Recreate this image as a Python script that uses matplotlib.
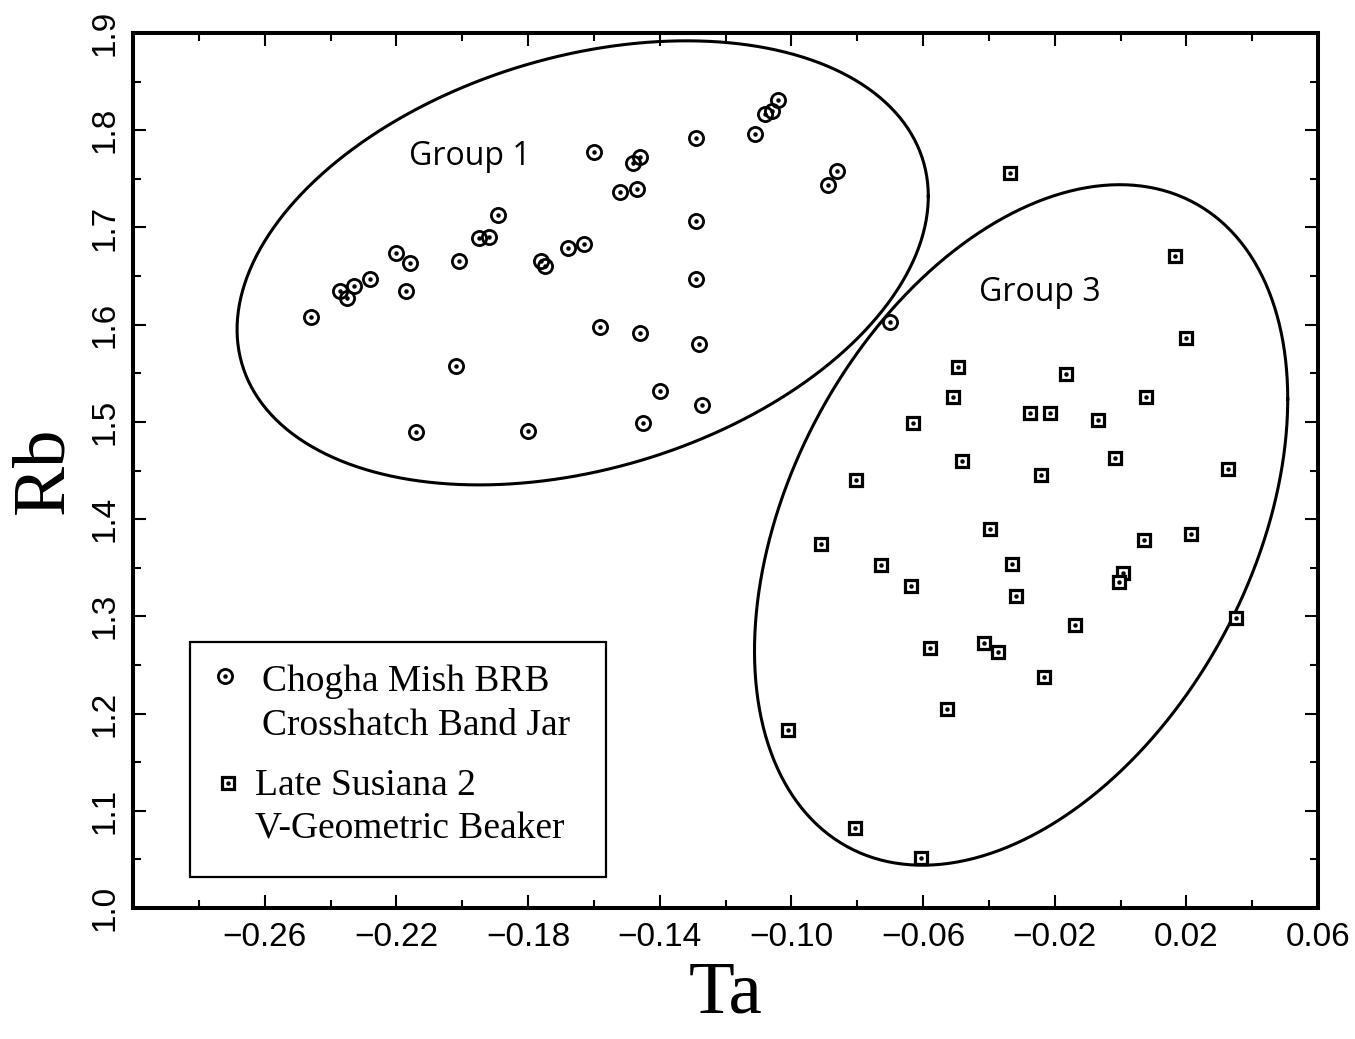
import numpy as np
import matplotlib
matplotlib.use("Agg")
import matplotlib.pyplot as plt
from matplotlib.patches import Rectangle

# Chogha Mish BRB Crosshatch Band Jar
cm_ta = [-0.246, -0.237, -0.235, -0.233, -0.228, -0.220, -0.216, -0.217,
         -0.201, -0.195, -0.192, -0.189, -0.202, -0.214, -0.180, -0.176,
         -0.175, -0.168, -0.163, -0.160, -0.158, -0.152, -0.148, -0.146,
         -0.147, -0.146, -0.145, -0.140, -0.129, -0.129, -0.129, -0.128,
         -0.127, -0.111, -0.108, -0.106, -0.104, -0.089, -0.086, -0.070]
cm_rb = [1.608, 1.635, 1.627, 1.640, 1.647, 1.674, 1.663, 1.635,
         1.666, 1.689, 1.690, 1.713, 1.557, 1.490, 1.491, 1.666,
         1.660, 1.679, 1.683, 1.778, 1.598, 1.737, 1.766, 1.773,
         1.740, 1.591, 1.499, 1.532, 1.792, 1.707, 1.647, 1.580,
         1.517, 1.796, 1.817, 1.820, 1.831, 1.744, 1.758, 1.603]

# Late Susiana 2 V-Geometric Beaker
ls_ta = [-0.0335, 0.0166, 0.0199, -0.0493, -0.0165, -0.0508, 0.0078, -0.0275,
         -0.0214, -0.0068, -0.0630, -0.0481, -0.0017, -0.0803, -0.0241, 0.0326,
         -0.0396, -0.0909, 0.0071, 0.0214, -0.0727, -0.0329, 0.0008, -0.0004,
         -0.0636, -0.0317, 0.0351, -0.0138, -0.0578, -0.0414, -0.0372, -0.0232,
         -0.0527, -0.1009, -0.0806, -0.0605]
ls_rb = [1.756, 1.671, 1.586, 1.556, 1.549, 1.526, 1.526, 1.509,
         1.509, 1.502, 1.499, 1.460, 1.463, 1.440, 1.445, 1.452,
         1.390, 1.374, 1.379, 1.385, 1.353, 1.354, 1.345, 1.335,
         1.331, 1.321, 1.298, 1.291, 1.267, 1.273, 1.263, 1.238,
         1.205, 1.183, 1.082, 1.051]

# group ellipses: centre, half extent in Ta, half extent in Rb, correlation
group1_ellipse = (-0.1634, 1.6636, 0.1050, 0.2284, 0.30)
group3_ellipse = (-0.0302, 1.3940, 0.0810, 0.3500, 0.37)

x_major = [-0.26, -0.22, -0.18, -0.14, -0.10, -0.06, -0.02, 0.02, 0.06]
x_minor = [-0.28, -0.24, -0.20, -0.16, -0.12, -0.08, -0.04, 0.00, 0.04]
y_major = [1.0, 1.1, 1.2, 1.3, 1.4, 1.5, 1.6, 1.7, 1.8, 1.9]
y_minor = [1.05, 1.15, 1.25, 1.35, 1.45, 1.55, 1.65, 1.75, 1.85]


def ellipse_curve(cx, cy, hx, hy, rho, n=400):
    t = np.linspace(0, 2 * np.pi, n)
    x = cx + hx * np.cos(t)
    y = cy + hy * (rho * np.cos(t) + np.sqrt(1 - rho ** 2) * np.sin(t))
    return x, y


fig = plt.figure(figsize=(13.55, 10.39), dpi=100)
ax = fig.add_axes([0.0982, 0.1261, 0.8745, 0.8421])

ax.set_xlim(-0.30, 0.06)
ax.set_ylim(1.0, 1.9)

for ell in (group1_ellipse, group3_ellipse):
    ex, ey = ellipse_curve(*ell)
    ax.plot(ex, ey, color='black', lw=2.2)

circle_style = dict(marker='o', ms=10.2, mfc='none', mec='black', mew=2.0, ls='none')
square_style = dict(marker='s', ms=8.8, mfc='white', mec='black', mew=2.3, ls='none')
dot_style = dict(marker='o', ms=2.2, color='black', ls='none')

ax.plot(cm_ta, cm_rb, **circle_style)
ax.plot(cm_ta, cm_rb, **dot_style)
ax.plot(ls_ta, ls_rb, **square_style)
ax.plot(ls_ta, ls_rb, **dot_style)

ax.text(-0.1977, 1.7726, 'Group 1', fontsize=23, family='Open Sans',
        ha='center', va='center')
ax.text(-0.0244, 1.633, 'Group 3', fontsize=23, family='Open Sans',
        ha='center', va='center')

# legend box
ax.add_patch(Rectangle((0.0481, 0.0354), 0.351, 0.2686, transform=ax.transAxes,
                       fill=False, edgecolor='black', lw=1.6, zorder=5))
ax.plot([0.0776], [0.2651], transform=ax.transAxes, **circle_style)
ax.plot([0.0776], [0.2651], transform=ax.transAxes, **dot_style)
ax.plot([0.0802], [0.1429], transform=ax.transAxes, **square_style)
ax.plot([0.0802], [0.1429], transform=ax.transAxes, **dot_style)
legend_font = dict(fontsize=27, family='Liberation Serif', va='baseline',
                   transform=ax.transAxes)
ax.text(0.1089, 0.248, 'Chogha Mish BRB', **legend_font)
ax.text(0.1089, 0.1977, 'Crosshatch Band Jar', **legend_font)
ax.text(0.1030, 0.1291, 'Late Susiana 2', **legend_font)
ax.text(0.1030, 0.0789, 'V-Geometric Beaker', **legend_font)

# axes, ticks
for sp in ax.spines.values():
    sp.set_linewidth(2.9)

ax.set_xticks(x_major)
ax.set_xticks(x_minor, minor=True)
ax.set_yticks(y_major)
ax.set_yticks(y_minor, minor=True)
ax.set_xticklabels([('%.2f' % v).replace('-', '\u2212') for v in x_major])
ax.set_yticklabels(['%.1f' % v for v in y_major])

ax.tick_params(which='both', direction='in', top=True, right=True, width=1.5)
ax.tick_params(which='major', length=9.5)
ax.tick_params(which='minor', length=6)
ax.tick_params(axis='x', which='major', pad=10, labelsize=24)
ax.tick_params(axis='y', which='major', pad=9, labelsize=24, labelrotation=90)
for lbl in ax.get_xticklabels() + ax.get_yticklabels():
    lbl.set_family('Liberation Sans')
for lbl in ax.get_yticklabels():
    lbl.set_va('center')

ax.set_xlabel('Ta', fontsize=54, family='Liberation Serif', labelpad=6)
ax.set_ylabel('Rb', fontsize=54, family='Liberation Serif', labelpad=8)

fig.savefig('out.png', dpi=100)
